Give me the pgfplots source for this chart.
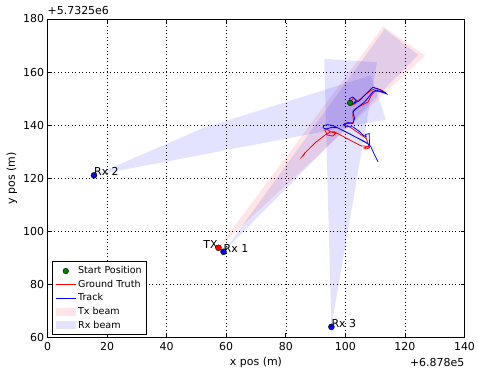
\documentclass[border=0pt]{standalone}
\usepackage{pgfplots}
\pgfplotsset{compat=1.18}
\usepackage{fontspec}
\setmainfont{DejaVu Sans}
\pgfplotsset{
  mylineleg/.style={legend image code/.code={\draw[##1] (0cm,0cm) -- (0.7cm,0cm);}},
  mymarkleg/.style={legend image code/.code={\draw[##1] plot coordinates {(0.35cm,0cm)};}},
  myarealeg/.style={legend image code/.code={\fill[##1] (0cm,-0.14cm) rectangle (0.7cm,0.14cm);}},
}
\begin{document}
\begin{tikzpicture}
\begin{axis}[name=ax,
  scale only axis, width=417bp, height=318.5bp,
  xmin=0, xmax=140, ymin=60, ymax=180,
  xtick={0,20,...,140}, ytick={60,80,...,180},
  /pgf/number format/assume math mode=true,
  tick label style={font=\fontsize{11}{13}\selectfont},
  xticklabel style={yshift=-1.5bp},
  label style={font=\fontsize{11}{13}\selectfont},
  xlabel={x pos (m)}, ylabel={y pos (m)},
  xlabel style={yshift=0bp},
  ylabel style={yshift=-1bp},
  grid=major, major grid style={black, line width=0.5pt, dash pattern=on 1pt off 2.5pt},
  tick align=inside, major tick length=4bp, tick style={black, line width=0.6pt},
  axis line style={black, line width=0.9pt},
  legend cell align=left,
  legend style={at={(0.011,0.008)}, anchor=south west, draw=black, line width=0.8pt,
    font=\fontsize{9.6}{11.5}\selectfont, row sep=0.8bp, inner sep=3pt},
]
% Beams
\addplot[forget plot, draw=none, fill=red, fill opacity=0.1] coordinates {(57.4,93.8) (112.7,177.2) (126.8,166.2)} -- cycle;
\addplot[forget plot, draw=none, fill=blue, fill opacity=0.11] coordinates {(59.1,92.3) (113.2,176.2) (124.5,166.5)} -- cycle;
\addplot[forget plot, draw=none, fill=blue, fill opacity=0.11] coordinates {(15.7,121.1) (52,138.8) (108.6,158.8) (113.6,142.1)} -- cycle;
\addplot[forget plot, draw=none, fill=blue, fill opacity=0.11] coordinates {(95.3,64.0) (92.9,165.0) (110.6,163.7)} -- cycle;
% Ground truth
\addplot[forget plot, red, line width=0.8pt] coordinates {
(101.7,148.5) (102.5,150.0) (103.6,149.7) (103.4,148.1) (102.5,147.7) (103.5,148.8) (105.3,150) (107,151.8) (108.7,153.1) (110.4,153.9) (112.3,153.1) (113.8,151.8) (113.3,152.3) (111.5,152.7) (109.8,152.7) (108.7,151.2) (107.6,148.7) (104.2,146.8) (102.8,145.6) (102.5,143.7) (102.8,141.2) (101.4,140.6) (99.7,140.6) (99.4,139.8) (100.8,139.8) (103.5,137.8) (107.0,135.0) (107.6,133.2) (108.1,131.5) (107.0,131.0) (106.2,131.4) (107.8,132.0) (105.3,132.2) (101,134.7) (96.3,137.5) (95.1,137.5) (93.4,138.8) (93.1,138.1) (94.0,136.3) (95.7,135.9) (96.8,136.9) (95.1,137.5) (93.5,136.5) (90,133.5) (86.3,129.4) (85.5,128.2) (86.1,128.8) (86.5,129.8)};
% Track
\addplot[forget plot, blue, line width=0.8pt] coordinates {
(101.9,148.7) (101.4,150.0) (102.5,150.6) (103.6,149.3) (102.8,148.3) (104.5,149.0) (106.4,151.2) (108.0,153.0) (109.3,154.3) (111.5,153.4) (113.2,152.4) (113.8,151.8) (112.3,152.4) (110.5,153.2) (109.3,152.7) (108.0,150.8) (106.4,148.7) (103.6,146.2) (102.5,145.0) (103.1,142.5) (102.5,140.6) (100.8,141.0) (99.4,140.2) (100.2,139.4) (102.5,139.4) (104.5,137.8) (105.9,136.3) (107.0,135.6) (106.8,136.5) (108.0,136.8) (108.1,132.5) (106.5,133.8) (103.5,135.5) (100,137.5) (97.4,139.0) (96,139.8) (94.0,140.2) (92.7,139.8) (92.5,139.0) (93.5,138.5) (95.5,139.2) (97.4,139.0) (101,137.0) (105.3,134.4) (107.5,133.0) (108.5,132.0) (109.5,129.5) (111.0,126.1)};
% Points
\addplot[forget plot, only marks, mark=*, mark size=2.8bp, mark options={fill=green!50!black, draw=black, line width=0.4pt}] coordinates {(101.6,148.4)};
\addplot[forget plot, only marks, mark=*, mark size=3bp, mark options={fill=red, draw=black, line width=0.4pt}] coordinates {(57.4,93.8)};
\addplot[forget plot, only marks, mark=*, mark size=3bp, mark options={fill=blue, draw=black, line width=0.4pt}] coordinates {(59.1,92.3) (15.6,121.1) (95.3,64.0)};
\node[anchor=base west, inner sep=0pt, font=\fontsize{11}{13}\selectfont] at (axis cs:52.3,93.4) {TX};
\node[anchor=base west, inner sep=0pt, font=\fontsize{11}{13}\selectfont] at (axis cs:59.1,91.9) {Rx 1};
\node[anchor=base west, inner sep=0pt, font=\fontsize{11}{13}\selectfont] at (axis cs:15.6,120.9) {Rx 2};
\node[anchor=base west, inner sep=0pt, font=\fontsize{11}{13}\selectfont] at (axis cs:95.3,63.8) {Rx 3};
% Legend
\addlegendimage{mymarkleg, only marks, mark=*, mark size=2.8bp, mark options={fill=green!50!black, draw=black, line width=0.4pt}}
\addlegendentry{Start Position}
\addlegendimage{mylineleg, red, line width=0.8pt}
\addlegendentry{Ground Truth}
\addlegendimage{mylineleg, blue, line width=0.8pt}
\addlegendentry{Track}
\addlegendimage{myarealeg, draw=none, fill=red, fill opacity=0.1}
\addlegendentry{Tx beam}
\addlegendimage{myarealeg, draw=none, fill=blue, fill opacity=0.11}
\addlegendentry{Rx beam}
\end{axis}
\node[anchor=base west, inner sep=0pt, font=\fontsize{11}{13}\selectfont] at ([yshift=4bp]ax.north west) {+5.7325e6};
\node[anchor=north east, inner sep=0pt, font=\fontsize{11}{13}\selectfont] at ([yshift=-20.5bp]ax.south east) {+6.878e5};
\pgfresetboundingbox
\path ([shift={(-47.5bp,-37.5bp)}]ax.south west) rectangle ([shift={(13.5bp,19bp)}]ax.north east);
\end{tikzpicture}
\end{document}
